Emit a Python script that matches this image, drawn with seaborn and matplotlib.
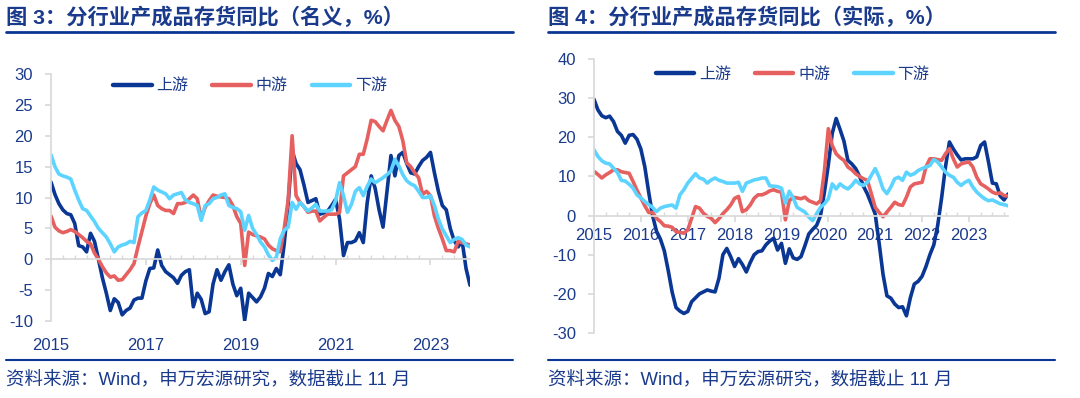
import numpy as np
import pandas as pd
import matplotlib
matplotlib.use("Agg")
import matplotlib.pyplot as plt
from matplotlib.lines import Line2D
import seaborn as sns

# monthly data, Jan 2015 - Nov 2023
months = pd.date_range("2015-01-01", "2023-11-01", freq="MS")
series_names = ["上游", "中游", "下游"]

# 图3 名义
up_nominal = [12.5, 10.5, 9.0, 8.0, 7.4, 7.2, 5.8, 2.2, 2.0, 1.2, 4.2, 2.9,
              0.0, -3.0, -5.5, -8.3, -6.4, -7.0, -9.0, -8.3, -7.9, -6.6, -6.3, -6.3,
              -3.5, -1.5, -1.4, 1.5, -1.0, -2.0, -2.5, -3.0, -3.9, -2.6, -2.0, -1.7,
              -7.7, -5.5, -6.5, -8.8, -8.5, -4.0, -1.7, -3.4, -2.0, -0.9, -4.0, -5.9,
              -4.7, -9.9, -5.5, -6.2, -6.9, -6.1, -4.7, -2.3, -2.8, -1.5, -2.5, 2.5,
              9.0, 17.6, 15.5, 14.5, 12.0, 9.2, 9.5, 9.8, 7.3, 7.5, 7.8, 8.7,
              9.7, 6.5, 0.6, 2.7, 2.7, 3.0, 4.3, 2.7, 9.2, 13.5, 11.5, 8.0,
              5.2, 11.0, 16.8, 13.5, 16.8, 17.3, 15.5, 14.0, 13.8, 15.0, 16.0, 16.5,
              17.3, 14.0, 11.0, 8.7, 8.0, 5.0, 3.0, 2.0, 3.0, -1.5, -4.2]
mid_nominal = [7.0, 5.2, 4.6, 4.3, 4.5, 4.8, 4.5, 4.0, 3.5, 2.9, 2.5, 1.0,
               0.0, -1.2, -2.2, -2.9, -2.7, -3.4, -3.3, -2.5, -1.7, -0.7, 2.0, 4.5,
               7.0, 9.0, 10.4, 8.7, 8.2, 7.9, 7.9, 7.4, 9.0, 9.0, 9.2, 9.8,
               10.4, 9.8, 6.6, 8.4, 9.5, 10.4, 10.2, 10.1, 10.0, 9.8, 8.7, 6.9,
               5.8, -1.0, 4.4, 4.0, 3.8, 3.6, 3.3, 2.3, 1.7, 1.4, 1.2, 5.0,
               9.6, 20.0, 10.3, 9.2, 8.5, 7.6, 7.8, 7.8, 6.2, 6.8, 7.3, 7.3,
               7.3, 7.6, 13.5, 14.0, 14.5, 15.0, 17.0, 17.0, 19.5, 22.5, 22.3, 21.5,
               20.8, 22.5, 24.1, 22.5, 21.5, 19.2, 15.6, 15.0, 14.0, 13.2, 10.5, 11.0,
               10.3, 7.0, 5.0, 3.3, 1.4, 1.4, 1.2, 2.9, 2.7, 2.5, 2.3]
down_nominal = [16.9, 15.0, 13.8, 13.5, 13.3, 13.0, 11.2, 9.6, 8.2, 7.9, 7.0, 6.1,
                5.0, 4.3, 3.6, 2.5, 1.2, 2.0, 2.3, 2.5, 2.9, 2.7, 6.9, 7.5,
                7.9, 9.6, 11.7, 11.2, 10.9, 10.6, 9.8, 10.4, 10.6, 10.8, 9.6, 9.2,
                9.0, 8.7, 6.3, 8.7, 9.0, 9.8, 10.0, 10.4, 10.6, 8.7, 8.4, 8.2,
                7.7, 4.7, 7.1, 5.0, 4.0, 2.8, 2.0, 0.7, -0.2, 0.3, 3.3, 4.7,
                5.2, 9.2, 8.1, 9.2, 8.5, 7.8, 8.3, 8.9, 7.8, 7.8, 7.8, 8.0,
                9.5, 12.4, 10.3, 7.6, 8.9, 11.0, 11.6, 10.3, 11.8, 13.0, 12.4, 12.8,
                13.2, 13.7, 14.3, 16.2, 15.1, 13.7, 12.7, 12.2, 11.9, 11.0, 10.0, 10.0,
                10.3, 8.7, 6.5, 4.9, 3.8, 2.7, 3.2, 3.5, 3.2, 2.3, 2.0]

# 图4 实际
up_real = [29.7, 27.0, 25.5, 25.0, 25.4, 24.0, 21.5, 20.5, 18.5, 20.5, 20.7, 19.5,
           17.0, 12.5, 6.0, 0.0, -4.0, -6.0, -9.0, -14.0, -19.5, -23.5, -24.4, -25.0,
           -24.5, -22.0, -21.0, -20.0, -19.5, -19.0, -19.3, -19.5, -16.0, -10.0, -8.4, -10.5,
           -13.0, -11.0, -12.5, -14.4, -12.0, -10.0, -9.2, -9.0, -7.5, -6.5, -5.8, -8.8,
           -7.1, -12.2, -8.5, -10.8, -11.2, -10.5, -7.7, -4.7, -3.5, -2.5, 0.0, 6.0,
           13.0, 21.0, 24.8, 22.0, 19.0, 14.1, 13.2, 12.0, 10.0, 7.5, 5.5, 3.0,
           0.4, -7.0, -15.0, -20.5, -21.1, -22.6, -23.5, -23.3, -25.6, -21.0, -17.5, -16.8,
           -15.5, -13.0, -10.0, -7.5, -2.5, 4.5, 12.5, 18.8, 17.0, 15.5, 14.2, 14.5,
           14.5, 14.5, 15.0, 17.9, 18.8, 13.7, 8.3, 8.1, 5.0, 4.0, 5.5]
mid_real = [11.3, 10.5, 9.6, 10.4, 11.0, 11.7, 11.7, 11.2, 11.0, 10.8, 8.7, 6.5,
            4.5, 2.5, 0.8, 0.8, -0.7, -1.5, -2.6, -2.7, -3.0, -4.1, -4.3, -4.5,
            -3.7, -0.7, 2.3, 1.9, 0.6, -0.2, -0.7, -1.8, -0.8, 0.5, 1.5, 2.7,
            4.4, 4.9, 1.0, 1.5, 2.7, 4.4, 5.3, 5.3, 5.7, 6.3, 6.6, 6.2,
            6.0, -1.1, 3.8, 4.7, 4.5, 4.3, 4.7, 3.8, 3.4, 3.0, 3.8, 11.5,
            22.2, 17.9, 15.8, 14.8, 14.1, 12.4, 11.7, 10.7, 10.0, 9.4, 9.0, 5.6,
            2.1, 0.8, -0.3, 0.9, 2.1, 3.4, 2.8, 2.6, 4.7, 7.3, 8.1, 8.3,
            8.5, 12.4, 14.5, 14.5, 14.3, 14.1, 15.8, 17.1, 14.5, 12.4, 13.2, 13.5,
            13.7, 12.4, 9.8, 8.1, 7.5, 6.8, 6.0, 5.6, 5.8, 5.1, 5.0]
down_real = [16.8, 15.1, 14.0, 13.4, 13.2, 12.1, 11.0, 9.0, 8.8, 8.0, 7.0, 5.3,
             4.5, 3.6, 2.8, 2.1, 1.0, 1.9, 2.3, 2.5, 2.7, 1.9, 5.3, 6.6,
             8.3, 9.5, 10.7, 9.6, 9.3, 8.3, 9.1, 9.6, 9.0, 8.7, 8.3, 8.3,
             8.3, 8.5, 6.2, 8.3, 8.7, 9.1, 9.3, 9.6, 9.6, 7.6, 7.5, 7.4,
             7.0, 3.2, 6.2, 4.5, 2.1, 1.5, 0.9, -0.4, -1.3, 0.5, 2.1, 3.0,
             4.3, 8.1, 6.8, 8.1, 7.3, 6.8, 7.7, 9.0, 8.1, 7.7, 8.5, 10.3,
             12.0, 9.8, 6.8, 5.6, 7.3, 9.4, 9.8, 9.0, 11.1, 10.3, 10.7, 11.5,
             12.0, 12.4, 12.8, 14.3, 13.7, 12.4, 11.1, 10.3, 9.8, 8.5, 7.7, 8.5,
             9.0, 7.3, 6.0, 5.1, 4.3, 3.8, 4.0, 3.5, 3.0, 2.8, 2.5]

navy = "#0A3794"
red = "#E5605F"
cyan = "#5CD4FF"
text_blue = "#1A3A8C"
grey = "#D9D9D9"
palette = dict(zip(series_names, [navy, red, cyan]))

sns.set_theme(style="white")
plt.rcParams["font.family"] = ["Liberation Sans", "Noto Sans CJK SC", "DejaVu Sans"]
plt.rcParams["axes.unicode_minus"] = False

year_pos = months.year + (months.month - 1) / 12.0


def make_frame(up, mid, down):
    frames = []
    for name, vals in zip(series_names, [up, mid, down]):
        frames.append(pd.DataFrame({"t": year_pos, "value": vals, "series": name}))
    return pd.concat(frames, ignore_index=True)


def draw_panel(ax, df, ylim, yticks, xmajor, legend_anchor):
    sns.lineplot(data=df, x="t", y="value", hue="series", hue_order=series_names,
                 palette=palette, linewidth=2.6, ax=ax)
    ax.set_xlim(year_pos[0], year_pos[-1])
    ax.set_ylim(*ylim)
    ax.set_yticks(yticks)
    ax.set_xlabel("")
    ax.set_ylabel("")
    for s in ["top", "right"]:
        ax.spines[s].set_visible(False)
    ax.spines["left"].set_color(grey)
    ax.spines["bottom"].set_color(grey)
    ax.spines["bottom"].set_position(("data", 0))
    ax.set_xticks(xmajor)
    ax.set_xticks(np.arange(2015, 2024, 0.25), minor=True)
    ax.set_xticklabels([str(y) for y in xmajor])
    ax.tick_params(axis="y", colors=grey, labelcolor=text_blue, labelsize=12,
                   direction="out", length=4, pad=9, left=True)
    ax.tick_params(axis="x", which="major", colors=grey, labelcolor=text_blue,
                   labelsize=12, direction="out", length=4, bottom=True)
    ax.tick_params(axis="x", which="minor", colors=grey, direction="in",
                   length=3, bottom=True)
    sns.move_legend(ax, "upper center", bbox_to_anchor=legend_anchor, ncol=3,
                    title=None, frameon=False, fontsize=11.5, handlelength=2.4,
                    handletextpad=0.3, columnspacing=1.5, labelcolor=text_blue)
    for h in ax.get_legend().legend_handles:
        h.set_linewidth(3.2)


fig = plt.figure(figsize=(10.8, 3.98), dpi=100)
W, H = 1080.0, 398.0

ax1 = fig.add_axes([51 / W, 1 - 321 / H, (470 - 51) / W, (321 - 74) / H])
draw_panel(ax1, make_frame(up_nominal, mid_nominal, down_nominal),
           (-10, 30), range(-10, 31, 5), [2015, 2017, 2019, 2021, 2023], (0.475, 1.04))
# left panel: year labels sit under the plot, not on the zero line
ax1.tick_params(axis="x", which="major", labelbottom=False)
sec = ax1.secondary_xaxis("bottom")
sec.set_xticks([2015, 2017, 2019, 2021, 2023])
sec.set_xticklabels(["2015", "2017", "2019", "2021", "2023"])
sec.tick_params(length=0, labelsize=12, labelcolor=text_blue, pad=12)
sec.spines["bottom"].set_visible(False)

ax2 = fig.add_axes([594 / W, 1 - 333 / H, (1008 - 594) / W, (333 - 59) / H])
draw_panel(ax2, make_frame(up_real, mid_real, down_real),
           (-30, 40), range(-30, 41, 10), list(range(2015, 2024)), (0.48, 1.025))
ax2.tick_params(axis="x", which="major", pad=5)

titles = ["图 3：分行业产成品存货同比（名义，%）", "图 4：分行业产成品存货同比（实际，%）"]
for x0, x1, title in [(6, 513, titles[0]), (548, 1055, titles[1])]:
    fig.text(x0 / W, 1 - 17 / H, title, fontsize=15.3, fontweight="bold",
             color=text_blue, va="center", ha="left")
    fig.add_artist(Line2D([x0 / W, x1 / W], [1 - 32 / H] * 2, color=navy,
                          lw=2, transform=fig.transFigure))
    fig.add_artist(Line2D([x0 / W, x1 / W], [1 - 360 / H] * 2, color=navy,
                          lw=1.5, transform=fig.transFigure))
    fig.text(x0 / W, 1 - 381 / H, "资料来源：Wind，申万宏源研究，数据截止 11 月",
             fontsize=13.3, color=text_blue, va="center", ha="left")

fig.savefig("out.png", dpi=100)
